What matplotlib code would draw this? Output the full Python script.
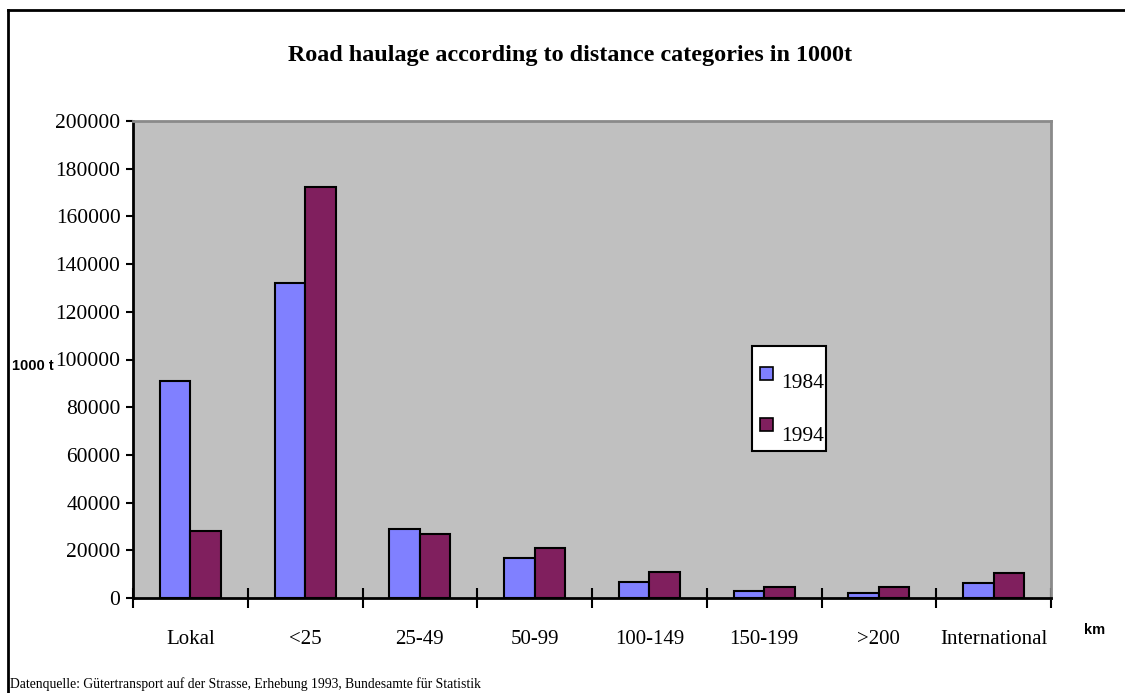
import numpy as np
import matplotlib.pyplot as plt
from matplotlib.patches import Rectangle
from matplotlib.lines import Line2D

# Road haulage by distance class, in 1000 t
categories = ["Lokal", "<25", "25-49", "50-99", "100-149", "150-199", ">200", "International"]
haulage_1984 = [91000, 132200, 29100, 16600, 6700, 2900, 2300, 6400]
haulage_1994 = [28300, 172400, 26800, 20800, 11000, 4600, 4600, 10600]
years = ["1984", "1994"]
colors = ["#8080ff", "#801f5e"]

plt.rcParams['font.family'] = ['Liberation Serif', 'DejaVu Serif']

fig = plt.figure(figsize=(11.25, 6.93), dpi=100)
ax = fig.add_axes([133/1125, 1 - 598/693, 918/1125, 477/693])
ax.set_facecolor("#c0c0c0")

x = np.arange(len(categories))
w = 0.265
ax.bar(x - w/2, haulage_1984, w, color=colors[0], edgecolor="black", linewidth=1.5)
ax.bar(x + w/2, haulage_1994, w, color=colors[1], edgecolor="black", linewidth=1.5)

ax.set_xlim(-0.5, len(categories) - 0.5)
ax.set_ylim(0, 200000)
ax.set_yticks(np.arange(0, 200001, 20000))
ax.tick_params(axis="y", direction="out", length=5, width=1.5, labelsize=15.5, pad=4)

# ticks on category boundaries, labels at the centres
ax.set_xticks(np.arange(-0.5, len(categories), 1.0))
ax.set_xticklabels([])
ax.tick_params(axis="x", which="major", direction="inout", length=14, width=1.5)
ax.set_xticks(x, minor=True)
ax.set_xticklabels(categories, minor=True)
ax.tick_params(axis="x", which="minor", length=0, labelsize=15, pad=23)

for side in ["left", "bottom"]:
    ax.spines[side].set_linewidth(2)
    ax.spines[side].set_color("black")
for side in ["top", "right"]:
    ax.spines[side].set_linewidth(2)
    ax.spines[side].set_color("#8a8a8a")

# legend box
lx0, lx1 = (752 - 133) / 918, (826 - 133) / 918
ly0, ly1 = (598 - 451) / 477, (598 - 346) / 477
ax.add_patch(Rectangle((lx0, ly0), lx1 - lx0, ly1 - ly0, transform=ax.transAxes,
                       facecolor="white", edgecolor="black", linewidth=1.5, zorder=5))
for i, (yr, c) in enumerate(zip(years, colors)):
    sq_y = (598 - (380 if i == 0 else 431)) / 477
    ax.add_patch(Rectangle(((760 - 133) / 918, sq_y), 13 / 918, 13 / 477,
                           transform=ax.transAxes, facecolor=c, edgecolor="black",
                           linewidth=1.2, zorder=6))
    txt_y = (598 - (383 if i == 0 else 436)) / 477
    ax.text((781 - 133) / 918, txt_y, yr, transform=ax.transAxes, fontsize=15.5,
            va="center", ha="left", zorder=7)

fig.text(570 / 1125, 1 - 56 / 693, "Road haulage according to distance categories in 1000t",
         ha="center", va="center", fontsize=17.4, fontweight="bold")
fig.text(12 / 1125, 1 - 366 / 693, "1000 t", ha="left", va="center", fontsize=10.5,
         fontweight="bold", family="Liberation Sans")
fig.text(1084 / 1125, 1 - 630 / 693, "km", ha="left", va="center", fontsize=10.5,
         fontweight="bold", family="Liberation Sans")
fig.text(10 / 1125, 1 - 684 / 693,
         "Datenquelle: Gütertransport auf der Strasse, Erhebung 1993, Bundesamte für Statistik",
         ha="left", va="center", fontsize=9.8)

# outer frame: left and top edges
fig.add_artist(Line2D([8 / 1125, 8 / 1125], [0, 1 - 10 / 693], transform=fig.transFigure,
                      color="black", linewidth=2))
fig.add_artist(Line2D([8 / 1125, 1], [1 - 10 / 693, 1 - 10 / 693], transform=fig.transFigure,
                      color="black", linewidth=2))

fig.savefig("out.png", dpi=100)
